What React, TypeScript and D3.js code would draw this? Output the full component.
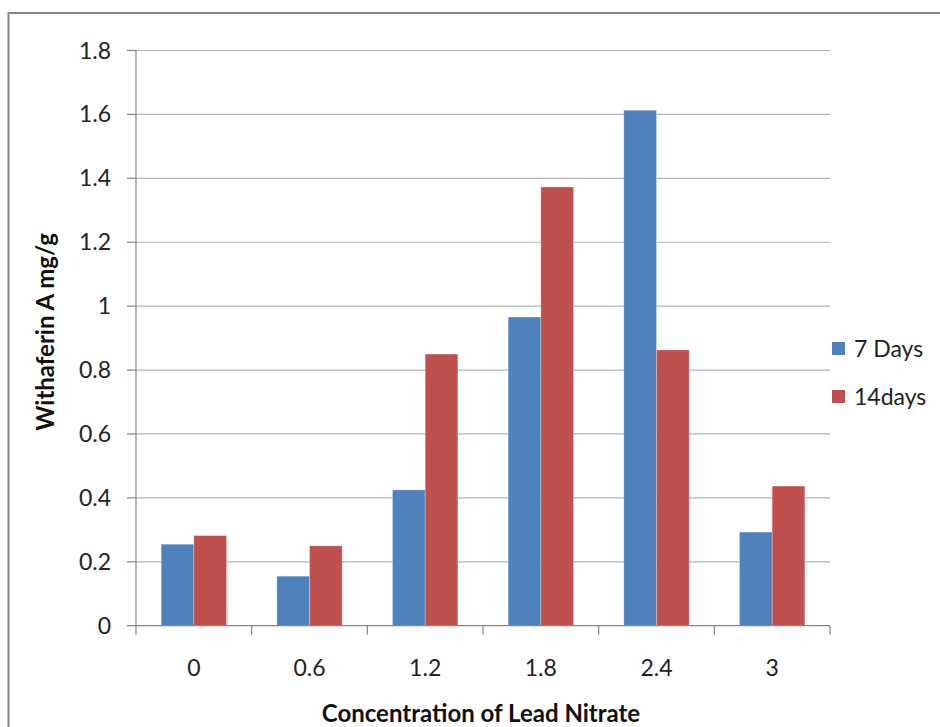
import React from 'react';
import * as d3 from 'd3';

const categories = ['0', '0.6', '1.2', '1.8', '2.4', '3'];
const sevenDays = [0.255, 0.155, 0.425, 0.966, 1.613, 0.293];
const fourteenDays = [0.282, 0.25, 0.85, 1.373, 0.863, 0.437];
const seriesNames = ['7 Days', '14days'];
const seriesColors = ['#4f81bd', '#c0504d'];
const yTicks = [0, 0.2, 0.4, 0.6, 0.8, 1, 1.2, 1.4, 1.6, 1.8];

const W = 940;
const H = 727;
const plot = { left: 136, right: 830, top: 50.5, bottom: 625.7 };
const font = 'Lato, Calibri, Carlito, sans-serif';

export default function App() {
  const x = d3.scaleBand<string>()
    .domain(categories)
    .range([plot.left, plot.right])
    .paddingInner(0)
    .paddingOuter(0);

  const y = d3.scaleLinear().domain([0, 1.8]).range([plot.bottom, plot.top]);

  const groupW = x.bandwidth() * 0.565;
  const inner = d3.scaleBand<number>()
    .domain([0, 1])
    .range([0, groupW])
    .padding(0);

  const series = [sevenDays, fourteenDays];
  const fmt = (d: number) => (d === 0 || d === 1 ? String(d) : d.toFixed(1));

  return (
    <svg width={W} height={H} style={{ position: 'absolute', left: 0, top: 0, background: '#fff' }}>
      <rect x={8.5} y={13} width={W + 20} height={H + 20} fill="none" stroke="#868686" strokeWidth={2} />

      {/* gridlines */}
      {yTicks.filter(t => t > 0).map(t => (
        <line key={t} x1={plot.left} x2={plot.right} y1={y(t)} y2={y(t)} stroke="#b3b3b3" strokeWidth={1.2} />
      ))}

      {/* bars */}
      {categories.map((c, i) => {
        const gx = (x(c) as number) + (x.bandwidth() - groupW) / 2;
        return series.map((s, k) => (
          <rect
            key={c + k}
            x={gx + (inner(k) as number)}
            y={y(s[i])}
            width={inner.bandwidth()}
            height={plot.bottom - y(s[i])}
            fill={seriesColors[k]}
            stroke="#ffffff"
            strokeOpacity={0.35}
            strokeWidth={0.8}
          />
        ));
      })}

      {/* axes */}
      <line x1={plot.left} x2={plot.left} y1={plot.top} y2={plot.bottom} stroke="#868686" strokeWidth={1.2} />
      <line x1={plot.left - 9} x2={plot.right} y1={plot.bottom} y2={plot.bottom} stroke="#868686" strokeWidth={1.2} />
      {yTicks.filter(t => t > 0).map(t => (
        <line key={'yt' + t} x1={plot.left - 9} x2={plot.left} y1={y(t)} y2={y(t)} stroke="#868686" strokeWidth={1.2} />
      ))}
      {d3.range(categories.length + 1).map(i => {
        const xx = plot.left + i * x.step();
        return <line key={'xt' + i} x1={xx} x2={xx} y1={plot.bottom} y2={plot.bottom + 9} stroke="#868686" strokeWidth={1.2} />;
      })}

      {yTicks.map(t => (
        <text key={'yl' + t} x={111} y={y(t)} dy="0.35em" textAnchor="end" fontFamily={font} fontSize={23} fill="#222">
          {fmt(t)}
        </text>
      ))}
      {categories.map(c => (
        <text key={'xl' + c} x={(x(c) as number) + x.bandwidth() / 2} y={668} dy="0.35em" textAnchor="middle" fontFamily={font} fontSize={23} fill="#222">
          {c}
        </text>
      ))}

      <text
        transform={`translate(46,332) rotate(-90)`}
        textAnchor="middle"
        dy="0.35em"
        fontFamily={font}
        fontSize={24}
        fontWeight="bold"
        fill="#111"
      >
        Withaferin A mg/g
      </text>
      <text x={481} y={714} dy="0.35em" textAnchor="middle" fontFamily={font} fontSize={24} fontWeight="bold" fill="#111">
        Concentration of Lead Nitrate
      </text>

      {/* legend */}
      {seriesNames.map((n, k) => (
        <g key={n} transform={`translate(832,${342 + k * 48})`}>
          <rect x={0} y={0} width={13} height={13} fill={seriesColors[k]} />
          <text x={22} y={6.5} dy="0.35em" fontFamily={font} fontSize={23} fill="#222">{n}</text>
        </g>
      ))}
    </svg>
  );
}
